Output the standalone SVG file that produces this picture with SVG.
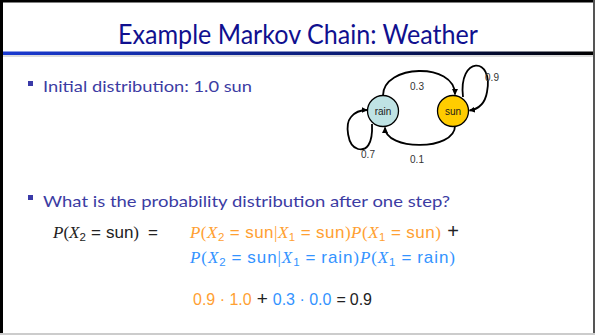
<svg xmlns="http://www.w3.org/2000/svg" width="595" height="335" viewBox="0 0 595 335">
<defs>
<linearGradient id="rule" x1="0" y1="0" x2="1" y2="0">
<stop offset="0" stop-color="#1a3ad0"/>
<stop offset="0.6" stop-color="#0a1a70"/>
<stop offset="1" stop-color="#000000"/>
</linearGradient>
<marker id="arr" viewBox="0 0 10 10" refX="9" refY="5" markerWidth="6" markerHeight="6" orient="auto" markerUnits="userSpaceOnUse">
<path d="M0,0 L10,5 L0,10 z" fill="#000"/>
</marker>
<style>
.title{font-family:Lato,"Liberation Sans",sans-serif;font-size:26px;fill:#10108f}
.bul{font-family:Lato,"Liberation Sans",sans-serif;font-size:16px;fill:#3c3ca3}
.sq{fill:#3a3aa8}
.node{stroke:#000;stroke-width:1.3}
.nl{font-family:"Liberation Sans",Arial,sans-serif;font-size:10px;fill:#1a1a1a;text-anchor:middle}
.el{font-family:"Liberation Sans",Arial,sans-serif;font-size:10px;fill:#333;text-anchor:middle}
.edge{fill:none;stroke:#000;stroke-width:1.8;marker-end:url(#arr)}
.m{font-family:"Liberation Sans",Arial,sans-serif;font-size:17px}
.n{font-family:"Liberation Sans",Arial,sans-serif;font-size:16px}
.i{font-family:"Liberation Serif","Times New Roman",serif;font-style:italic}
.r{font-family:"Liberation Serif","Times New Roman",serif}
.blk{fill:#222}
.org{fill:#ffa032}
.blu{fill:#3393ff}
</style>
</defs>
<rect x="0" y="0" width="595" height="335" fill="#fff"/>
<rect x="0" y="0" width="595" height="2.5" fill="#000"/>
<rect x="0" y="0" width="3" height="335" fill="#000"/>
<rect x="593" y="0" width="2" height="335" fill="#555"/>
<rect x="0" y="333" width="595" height="2" fill="#ccc"/>
<rect x="3" y="51.5" width="590" height="3.5" fill="url(#rule)"/>
<rect x="3" y="55.5" width="590" height="1" fill="#bbb"/>

<text class="title" x="118" y="44" textLength="360" lengthAdjust="spacingAndGlyphs">Example Markov Chain: Weather</text>

<rect class="sq" x="28" y="81" width="5" height="5"/>
<text class="bul" x="43" y="92" textLength="209" lengthAdjust="spacingAndGlyphs">Initial distribution: 1.0 sun</text>

<rect class="sq" x="28" y="195" width="5" height="5"/>
<text class="bul" x="43" y="207" textLength="407" lengthAdjust="spacingAndGlyphs">What is the probability distribution after one step?</text>

<g id="connectors">
<path class="edge" d="M383,95.5 C383,64 455,62 455,94.5"/>
<path class="edge" d="M455,126 C455,151 385,151 385,127.5"/>
<path class="edge" d="M463,97 C458,56 494,56 487,92 C485,104 479,109 469.5,110.5"/>
<path class="edge" d="M372,124 C373,145 366,151 358,149 C347,146 345,124 351,117 C355,112 361,110 367,110"/>
<text class="el" x="417" y="90">0.3</text>
<text class="el" x="417" y="163">0.1</text>
<text class="el" x="492" y="81">0.9</text>
<text class="el" x="368" y="158">0.7</text>
</g>

<g id="rain">
<circle class="node" cx="383" cy="111" r="15.5" fill="#bfe3e4"/>
<text class="nl" x="383" y="114.5">rain</text>
</g>
<g id="sun">
<circle class="node" cx="453" cy="111" r="15.5" fill="#ffcc00"/>
<text class="nl" x="453" y="114.5">sun</text>
</g>

<text class="m blk" x="53" y="238" textLength="105" lengthAdjust="spacing"><tspan class="i">P</tspan><tspan class="r">(</tspan><tspan class="i">X</tspan><tspan font-size="11.5" dy="3">2</tspan><tspan dy="-3" dx="5">=</tspan><tspan dx="5">sun</tspan><tspan class="r">)</tspan><tspan dx="9">=</tspan></text>

<text class="m org" x="190" y="238" textLength="269" lengthAdjust="spacing"><tspan class="i">P</tspan><tspan class="r">(</tspan><tspan class="i">X</tspan><tspan font-size="11.5" dy="3">2</tspan><tspan dy="-3" dx="5">=</tspan><tspan dx="5">sun</tspan><tspan class="r">|</tspan><tspan class="i">X</tspan><tspan font-size="11.5" dy="3">1</tspan><tspan dy="-3" dx="5">=</tspan><tspan dx="5">sun</tspan><tspan class="r">)</tspan><tspan class="i">P</tspan><tspan class="r">(</tspan><tspan class="i">X</tspan><tspan font-size="11.5" dy="3">1</tspan><tspan dy="-3" dx="5">=</tspan><tspan dx="5">sun</tspan><tspan class="r">)</tspan><tspan class="blk" font-size="20" dx="6">+</tspan></text>

<text class="m blu" x="190" y="263" textLength="265" lengthAdjust="spacing"><tspan class="i">P</tspan><tspan class="r">(</tspan><tspan class="i">X</tspan><tspan font-size="11.5" dy="3">2</tspan><tspan dy="-3" dx="5">=</tspan><tspan dx="5">sun</tspan><tspan class="r">|</tspan><tspan class="i">X</tspan><tspan font-size="11.5" dy="3">1</tspan><tspan dy="-3" dx="5">=</tspan><tspan dx="5">rain</tspan><tspan class="r">)</tspan><tspan class="i">P</tspan><tspan class="r">(</tspan><tspan class="i">X</tspan><tspan font-size="11.5" dy="3">1</tspan><tspan dy="-3" dx="5">=</tspan><tspan dx="5">rain</tspan><tspan class="r">)</tspan></text>

<text class="n" x="193" y="305" textLength="179" lengthAdjust="spacing"><tspan class="org">0.9 · 1.0</tspan><tspan class="blk" font-size="19" dx="5">+</tspan><tspan class="blu" dx="5">0.3 · 0.0</tspan><tspan class="blk" dx="5">=</tspan><tspan class="blk" dx="4">0.9</tspan></text>
</svg>
